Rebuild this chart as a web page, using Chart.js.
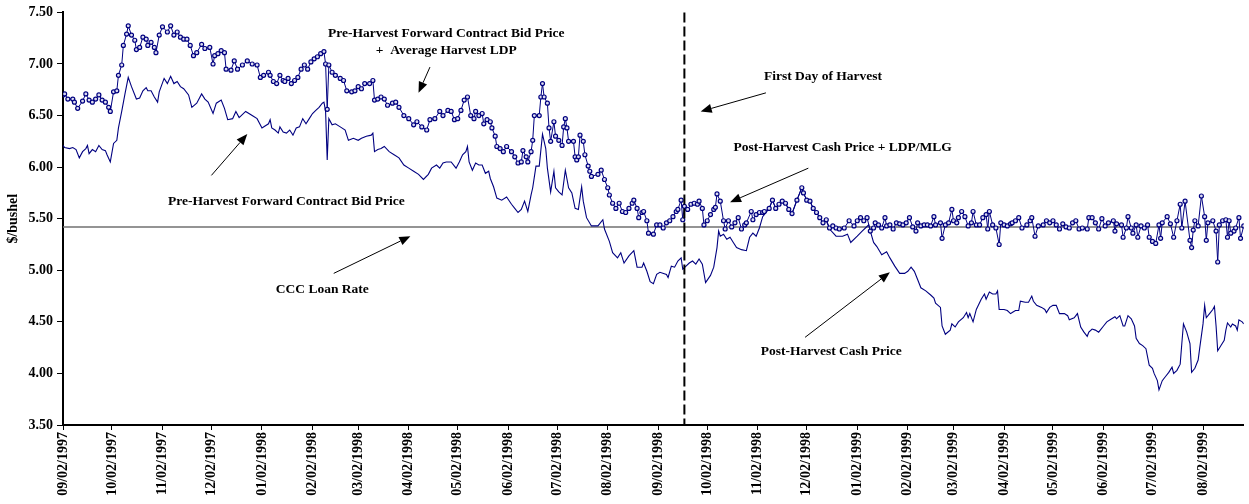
<!DOCTYPE html>
<html>
<head>
<meta charset="utf-8">
<script src="https://cdn.jsdelivr.net/npm/chart.js@4.4.0/dist/chart.umd.min.js"></script>
<style>
  html, body { margin: 0; padding: 0; background: #fff; }
  canvas { display: block; }
</style>
</head>
<body>
<canvas id="chart" width="1249" height="504"></canvas>
<script>
// x values are days counted from startDate
const startDate = '09/02/1997'
const lastDate = '08/27/1999'
const harvestStart = '09/18/1998'
const loanRate = 5.42

const monthTicks = [
    '09/02/1997', '10/02/1997', '11/02/1997', '12/02/1997', '01/02/1998', '02/02/1998',
    '03/02/1998', '04/02/1998', '05/02/1998', '06/02/1998', '07/02/1998', '08/02/1998',
    '09/02/1998', '10/02/1998', '11/02/1998', '12/02/1998', '01/02/1999', '02/02/1999',
    '03/02/1999', '04/02/1999', '05/02/1999', '06/02/1999', '07/02/1999', '08/02/1999'
]

// forward contract bid + LDP, then post-harvest cash + LDP/MLG
const ldpDays = [
    0, 1, 3, 6, 7, 9, 12, 14, 16, 18, 20, 22, 24, 26, 28, 29, 31, 33, 34, 36,
    37, 39, 40, 42, 44, 45, 47, 49, 51, 52, 54, 56, 57, 59, 61, 64, 66, 68, 70, 72,
    74, 76, 78, 80, 82, 85, 87, 90, 92, 93, 95, 97, 99, 100, 103, 105, 107, 110, 113, 116,
    119, 121, 123, 126,
    127, 129, 131, 133, 135, 136, 138, 140, 142, 144, 146, 148, 150, 152, 154, 156, 158, 160, 161, 162,
    163, 165, 167, 170, 172, 174, 177, 179, 181, 183, 185, 188, 190, 191, 193, 195, 197, 199, 202, 204,
    206, 209, 212, 215, 217, 220, 223, 225, 228, 231, 233, 236, 238, 240, 242, 244, 246, 248,
    250, 252, 253, 255, 257, 258, 260, 262, 263, 265, 266, 268, 270, 272, 275, 277, 279, 281, 282, 284,
    285, 287, 288, 289, 292, 293, 294, 295, 297, 298, 299, 301, 302, 304, 306, 307, 308, 309, 310, 313,
    314, 315, 316, 317, 319, 320, 322, 323, 324, 328, 330, 332, 334, 335, 337, 339, 341, 343, 345, 347,
    349, 350, 352, 353, 355, 356, 358, 359, 362, 364, 366, 368, 370,
    372, 374, 376, 377, 379, 380, 381, 383, 385, 387, 389, 390, 392, 393, 395, 397, 399, 400, 401, 403,
    405, 406, 408, 410, 412, 414, 416, 418, 419, 422, 423, 425, 427, 429, 430, 433, 435, 437, 439, 441,
    443, 445, 447, 450, 453, 454, 456, 458, 460, 462, 464, 466, 468, 470, 472, 474, 476, 479, 482, 485,
    487, 489, 491, 493,
    495, 497, 498, 500, 502, 504, 505, 507, 509, 511, 513, 515, 517, 519, 521, 523, 524, 526, 528, 530,
    532, 534, 535, 538, 539, 541, 543, 545, 546, 548, 549, 551, 553, 555, 557, 558, 560, 562, 564, 566,
    567, 568, 570, 572, 574, 575, 577, 579, 581, 582, 584, 586, 588, 591, 593, 594, 596, 598, 601, 603,
    605, 607, 609,
    611, 613, 615, 617, 619, 621, 623, 625, 628, 629, 631, 633, 635, 637, 639, 641, 644, 645, 646, 649,
    650, 652, 653, 655, 656, 658, 659, 661, 663, 665, 666, 668, 670, 672, 673, 674, 677, 679, 681, 683,
    685, 686, 688, 691, 692, 693, 694, 696, 698, 700, 701, 702, 705, 707, 708, 709, 711, 713, 714, 715,
    716, 718, 719, 721, 722, 724
]
const ldpPrices = [
    6.70, 6.71, 6.66, 6.66, 6.63, 6.57, 6.64, 6.71, 6.65, 6.63, 6.66, 6.70, 6.65, 6.63, 6.58, 6.54, 6.73, 6.74, 6.89, 6.99,
    7.18, 7.29, 7.37, 7.28, 7.23, 7.14, 7.16, 7.26, 7.24, 7.18, 7.21, 7.16, 7.11, 7.28, 7.36, 7.31, 7.37, 7.28, 7.31, 7.26,
    7.24, 7.24, 7.18, 7.08, 7.11, 7.19, 7.15, 7.16, 7.00, 7.08, 7.10, 7.13, 7.11, 6.95, 6.94, 7.03, 6.95, 6.99, 7.03, 7.00,
    6.99, 6.87, 6.89, 6.92,
    6.89, 6.83, 6.81, 6.89, 6.84, 6.83, 6.86, 6.81, 6.84, 6.87, 6.95, 6.99, 6.95, 7.02, 7.05, 7.07, 7.10, 7.12, 7.00, 6.56,
    6.99, 6.92, 6.89, 6.86, 6.84, 6.74, 6.73, 6.74, 6.78, 6.76, 6.81, 6.81, 6.84, 6.65, 6.66, 6.68, 6.66, 6.60, 6.62, 6.63,
    6.58, 6.50, 6.47, 6.41, 6.44, 6.39, 6.36, 6.46, 6.47, 6.54, 6.50, 6.55, 6.54, 6.46, 6.47, 6.55, 6.65, 6.68,
    6.50, 6.47, 6.54, 6.50, 6.52, 6.42, 6.46, 6.44, 6.38, 6.30, 6.20, 6.18, 6.15, 6.20, 6.15, 6.10, 6.04, 6.05, 6.16, 6.10,
    6.05, 6.15, 6.26, 6.50, 6.50, 6.68, 6.81, 6.68, 6.62, 6.38, 6.25, 6.44, 6.30, 6.26, 6.21, 6.39, 6.47, 6.38, 6.25, 6.25,
    6.10, 6.07, 6.10, 6.31, 6.25, 6.12, 6.01, 5.96, 5.91, 5.93, 5.97, 5.88, 5.80, 5.73, 5.65, 5.60, 5.65, 5.57, 5.56, 5.60,
    5.65, 5.68, 5.60, 5.51, 5.56, 5.57, 5.48, 5.36, 5.35, 5.44, 5.44, 5.41, 5.46,
    5.48, 5.52, 5.57, 5.59, 5.68, 5.49, 5.62, 5.59, 5.64, 5.65, 5.64, 5.67, 5.60, 5.44, 5.48, 5.54, 5.59, 5.61, 5.74, 5.67,
    5.48, 5.40, 5.48, 5.42, 5.46, 5.51, 5.40, 5.44, 5.46, 5.57, 5.49, 5.54, 5.56, 5.56, 5.57, 5.60, 5.68, 5.60, 5.64, 5.67,
    5.65, 5.59, 5.55, 5.68, 5.80, 5.75, 5.68, 5.67, 5.60, 5.56, 5.51, 5.46, 5.49, 5.41, 5.43, 5.41, 5.40, 5.41, 5.48, 5.43,
    5.48, 5.51, 5.48, 5.51,
    5.38, 5.41, 5.46, 5.44, 5.41, 5.51, 5.43, 5.44, 5.40, 5.46, 5.45, 5.44, 5.46, 5.51, 5.42, 5.38, 5.46, 5.43, 5.44, 5.44,
    5.43, 5.52, 5.44, 5.46, 5.31, 5.44, 5.46, 5.59, 5.48, 5.46, 5.51, 5.57, 5.52, 5.43, 5.46, 5.57, 5.44, 5.44, 5.51, 5.54,
    5.40, 5.57, 5.44, 5.41, 5.25, 5.46, 5.44, 5.43, 5.45, 5.46, 5.48, 5.51, 5.41, 5.44, 5.48, 5.51, 5.33, 5.43, 5.44, 5.48,
    5.46, 5.48, 5.44,
    5.40, 5.45, 5.42, 5.41, 5.46, 5.48, 5.40, 5.41, 5.40, 5.51, 5.51, 5.46, 5.40, 5.50, 5.43, 5.46, 5.48, 5.38, 5.45, 5.44,
    5.32, 5.41, 5.52, 5.41, 5.36, 5.44, 5.32, 5.43, 5.41, 5.44, 5.32, 5.28, 5.26, 5.44, 5.31, 5.46, 5.52, 5.45, 5.32, 5.48,
    5.64, 5.41, 5.67, 5.29, 5.22, 5.39, 5.48, 5.43, 5.72, 5.52, 5.29, 5.46, 5.48, 5.38, 5.08, 5.44, 5.48, 5.49, 5.32, 5.48,
    5.36, 5.38, 5.41, 5.51, 5.31, 5.43
]

// forward contract bid, then post-harvest cash price
const bidDays = [
    0, 1, 4, 6, 8, 10, 12, 14, 15, 16, 18, 20, 22, 24, 26, 27, 29, 31, 33, 34,
    36, 38, 40, 42, 45, 47, 49, 51, 52, 54, 56, 58, 59, 62, 64, 66, 68, 70, 72, 74,
    77, 79, 82, 85, 87, 89, 92, 94, 97, 99, 101, 104, 106, 108, 112, 116, 119, 122, 126,
    127, 128, 130, 132, 133, 135, 137, 139, 141, 143, 145, 147, 149, 151, 153, 155, 157, 159, 160, 161,
    162, 163, 165, 167, 170, 173, 175, 178, 181, 183, 186, 189, 190, 191, 193, 195, 197, 200, 203, 206,
    209, 212, 215, 218, 221, 224, 226, 229, 231, 233, 235, 238, 241, 243, 245, 247, 248,
    249, 251, 253, 255, 257, 259, 261, 262, 264, 266, 269, 272, 275, 277, 279, 281, 283, 285, 287, 288,
    290, 292, 294, 296, 297, 299, 301, 302, 304, 306, 308, 310, 312, 314, 316, 318, 319, 321, 324, 328,
    331, 332, 335, 337, 340, 342, 344, 347, 350, 352, 355, 356, 358, 360, 362, 364, 366, 370,
    371, 373, 375, 377, 379, 380, 382, 384, 386, 388, 390, 392, 394, 397, 399, 401, 402, 403, 405, 407,
    409, 411, 413, 416, 419, 421, 423, 425, 427, 429, 430,
    433, 435, 437, 439, 441, 443, 445, 447, 450, 453, 454, 456, 458, 460, 462, 464, 466, 468,
    470, 474, 478, 481, 483, 487, 490, 492,
    494, 495, 497, 499, 502, 505, 507, 510, 513, 516, 518, 520, 522, 524, 526, 529, 532, 534, 535, 538,
    539, 541, 544, 545, 547, 549, 552, 554, 555, 556, 558, 560, 563, 565, 566, 568, 570, 572, 573, 574,
    577, 579, 581, 582, 584, 586, 587, 590, 592, 594, 595, 597, 600, 602, 603, 605, 607, 609,
    610, 611, 614, 616, 617, 620, 622, 624, 626, 628, 629, 631, 633, 635, 638, 640, 643, 645, 646, 648,
    650, 651, 653, 655, 657, 658, 660, 662, 664, 666, 668, 669, 671, 672, 674, 676, 678, 680, 681, 683,
    685, 686, 687, 689, 691, 692, 694, 696, 697, 699, 700, 701, 703, 705, 706, 707, 708, 710, 712, 713,
    714, 716, 717, 719, 720, 721, 723, 724
]
const bidPrices = [
    6.21, 6.19, 6.18, 6.19, 6.17, 6.09, 6.15, 6.18, 6.21, 6.13, 6.17, 6.15, 6.21, 6.17, 6.16, 6.12, 6.05, 6.23, 6.26, 6.38,
    6.54, 6.71, 6.87, 6.78, 6.66, 6.67, 6.74, 6.77, 6.74, 6.74, 6.68, 6.63, 6.73, 6.86, 6.81, 6.88, 6.81, 6.83, 6.78, 6.76,
    6.70, 6.58, 6.62, 6.71, 6.66, 6.63, 6.52, 6.62, 6.65, 6.57, 6.46, 6.47, 6.54, 6.48, 6.54, 6.50, 6.47, 6.38, 6.42,
    6.46, 6.38, 6.36, 6.33, 6.39, 6.34, 6.33, 6.36, 6.31, 6.38, 6.39, 6.47, 6.42, 6.47, 6.52, 6.55, 6.58, 6.62, 6.63, 6.54,
    6.07, 6.47, 6.41, 6.42, 6.39, 6.36, 6.26, 6.28, 6.26, 6.28, 6.30, 6.31, 6.33, 6.15, 6.17, 6.18, 6.20, 6.15, 6.12, 6.09,
    6.02, 5.99, 5.96, 5.93, 5.88, 5.93, 5.99, 6.02, 5.99, 6.04, 6.05, 6.05, 5.99, 6.05, 6.12, 6.15, 6.20,
    6.05, 5.97, 6.04, 6.02, 6.02, 5.94, 5.96, 5.89, 5.81, 5.70, 5.68, 5.71, 5.64, 5.60, 5.56, 5.59, 5.67, 5.57, 5.73, 5.80,
    6.01, 6.01, 6.32, 6.18, 5.99, 5.76, 5.96, 5.80, 5.76, 5.73, 5.97, 5.80, 5.75, 5.60, 5.59, 5.81, 5.67, 5.51, 5.43, 5.43,
    5.49, 5.40, 5.28, 5.17, 5.12, 5.17, 5.07, 5.14, 5.19, 5.03, 5.03, 5.07, 4.99, 4.89, 4.87, 4.96, 4.98, 4.96,
    4.93, 5.04, 5.03, 5.09, 5.12, 5.01, 5.04, 5.07, 5.09, 5.06, 5.11, 5.06, 4.88, 4.95, 5.03, 5.22, 5.38, 5.33, 5.35, 5.30,
    5.32, 5.27, 5.22, 5.20, 5.19, 5.32, 5.36, 5.33, 5.41, 5.52, 5.54,
    5.60, 5.68, 5.60, 5.64, 5.67, 5.65, 5.59, 5.55, 5.68, 5.80, 5.75, 5.68, 5.67, 5.60, 5.56, 5.51, 5.46, 5.48,
    5.40, 5.33, 5.33, 5.35, 5.27, 5.33, 5.38, 5.41,
    5.44, 5.38, 5.27, 5.23, 5.15, 5.18, 5.12, 5.04, 4.97, 4.97, 4.99, 5.03, 4.99, 4.91, 4.83, 4.80, 4.76, 4.73, 4.68, 4.64,
    4.46, 4.38, 4.42, 4.48, 4.45, 4.50, 4.54, 4.59, 4.54, 4.58, 4.50, 4.62, 4.72, 4.77, 4.72, 4.79, 4.77, 4.77, 4.80, 4.62,
    4.62, 4.61, 4.58, 4.59, 4.61, 4.61, 4.70, 4.69, 4.69, 4.75, 4.70, 4.66, 4.64, 4.62, 4.59, 4.64, 4.66, 4.66,
    4.62, 4.58, 4.58, 4.56, 4.52, 4.54, 4.58, 4.45, 4.40, 4.36, 4.40, 4.43, 4.42, 4.40, 4.46, 4.50, 4.53, 4.55, 4.53, 4.56,
    4.46, 4.46, 4.56, 4.53, 4.46, 4.34, 4.29, 4.27, 4.24, 4.08, 4.05, 4.00, 3.93, 3.84, 3.93, 3.97, 4.01, 4.06, 4.00, 4.03,
    4.09, 4.29, 4.48, 4.40, 4.29, 4.01, 4.05, 4.13, 4.25, 4.48, 4.66, 4.54, 4.58, 4.62, 4.65, 4.46, 4.22, 4.27, 4.32, 4.42,
    4.49, 4.45, 4.48, 4.46, 4.42, 4.52, 4.50, 4.48
]

// callouts, placed in chart units (day, $/bushel)
const notes = [
    { text: 'Pre-Harvest Forward Contract Bid Price', day: 235, price: 7.30 },
    { text: '+  Average Harvest LDP', day: 235, price: 7.13 },
    { text: 'First Day of Harvest', day: 466, price: 6.88 },
    { text: 'Post-Harvest Cash Price + LDP/MLG', day: 478, price: 6.19 },
    { text: 'Pre-Harvest Forward Contract Bid Price', day: 137, price: 5.67 },
    { text: 'CCC Loan Rate', day: 159, price: 4.81 },
    { text: 'Post-Harvest Cash Price', day: 471, price: 4.21 }
]
const arrows = [
    { from: [225, 6.97], to: [218, 6.72] },
    { from: [431, 6.72], to: [391, 6.54] },
    { from: [457, 5.99], to: [409, 5.66] },
    { from: [91, 5.92], to: [113, 6.32] },
    { from: [166, 4.97], to: [213, 5.33] },
    { from: [455, 4.35], to: [507, 4.98] }
]

const dayOf = (s) => {
    const [m, d, y] = s.split('/').map(Number)
    const [m0, d0, y0] = startDate.split('/').map(Number)
    return Math.round((Date.UTC(y, m - 1, d) - Date.UTC(y0, m0 - 1, d0)) / 864e5)
}
const toPoints = (days, prices) => days.map((d, i) => ({ x: d, y: prices[i] }))

const serif = '"Liberation Serif", "Times New Roman", serif'
Chart.defaults.font.family = serif
Chart.defaults.color = '#000'

const calloutPlugin = {
    id: 'callouts',
    afterDatasetsDraw(chart) {
        const { ctx, chartArea } = chart
        const x = chart.scales.x
        const y = chart.scales.y
        ctx.save()

        // first day of harvest
        const hx = x.getPixelForValue(dayOf(harvestStart))
        ctx.strokeStyle = '#000'
        ctx.lineWidth = 2
        ctx.setLineDash([10, 4])
        ctx.beginPath()
        ctx.moveTo(hx, chartArea.top)
        ctx.lineTo(hx, chartArea.bottom)
        ctx.stroke()
        ctx.setLineDash([])

        ctx.fillStyle = '#000'
        ctx.font = 'bold 13.5px ' + serif
        ctx.textAlign = 'center'
        ctx.textBaseline = 'middle'
        notes.forEach(n => {
            ctx.fillText(n.text, x.getPixelForValue(n.day), y.getPixelForValue(n.price))
        })

        ctx.lineWidth = 1
        arrows.forEach(a => {
            const x1 = x.getPixelForValue(a.from[0]), y1 = y.getPixelForValue(a.from[1])
            const x2 = x.getPixelForValue(a.to[0]), y2 = y.getPixelForValue(a.to[1])
            const ang = Math.atan2(y2 - y1, x2 - x1)
            const len = 11, half = 4.5
            const bx = x2 - len * Math.cos(ang), by = y2 - len * Math.sin(ang)
            ctx.beginPath()
            ctx.moveTo(x1, y1)
            ctx.lineTo(bx, by)
            ctx.stroke()
            ctx.beginPath()
            ctx.moveTo(x2, y2)
            ctx.lineTo(bx + half * Math.sin(ang), by - half * Math.cos(ang))
            ctx.lineTo(bx - half * Math.sin(ang), by + half * Math.cos(ang))
            ctx.closePath()
            ctx.fill()
        })
        ctx.restore()
    }
}

const tickDays = monthTicks.map(dayOf)

new Chart(document.getElementById('chart'), {
    type: 'line',
    data: {
        datasets: [
            {
                data: toPoints(ldpDays, ldpPrices),
                borderColor: '#000080',
                borderWidth: 1,
                pointRadius: 2,
                pointBorderWidth: 1.2,
                pointBorderColor: '#000080',
                pointBackgroundColor: '#dcdcf0'
            },
            {
                data: toPoints(bidDays, bidPrices),
                borderColor: '#000080',
                borderWidth: 1.1,
                pointRadius: 0
            },
            {
                data: [{ x: 0, y: loanRate }, { x: dayOf(lastDate), y: loanRate }],
                borderColor: '#707070',
                borderWidth: 1.5,
                pointRadius: 0
            }
        ]
    },
    options: {
        responsive: false,
        animation: false,
        layout: { padding: { top: 10, right: 2, left: 0, bottom: 0 } },
        plugins: {
            legend: { display: false },
            tooltip: { enabled: false }
        },
        scales: {
            x: {
                type: 'linear',
                min: 0,
                max: dayOf(lastDate),
                afterBuildTicks: (scale) => { scale.ticks = tickDays.map(v => ({ value: v })) },
                afterFit: (scale) => { scale.height = 79 },
                ticks: {
                    autoSkip: false,
                    minRotation: 90,
                    maxRotation: 90,
                    padding: 2,
                    font: { size: 14, weight: 'bold' },
                    callback: (v, i) => monthTicks[i]
                },
                grid: { drawOnChartArea: false, tickLength: 5, color: '#000' },
                border: { color: '#000', width: 2 }
            },
            y: {
                min: 3.5,
                max: 7.5,
                afterFit: (scale) => { scale.width = 63 },
                ticks: {
                    stepSize: 0.5,
                    padding: 4,
                    font: { size: 14, weight: 'bold' },
                    callback: (v) => v.toFixed(2)
                },
                title: {
                    display: true,
                    text: '$/bushel',
                    font: { size: 14, weight: 'bold' },
                    padding: { top: 5, bottom: 0 }
                },
                grid: { drawOnChartArea: false, tickLength: 6, color: '#000' },
                border: { color: '#000', width: 2 }
            }
        }
    },
    plugins: [calloutPlugin]
})
</script>
</body>
</html>
